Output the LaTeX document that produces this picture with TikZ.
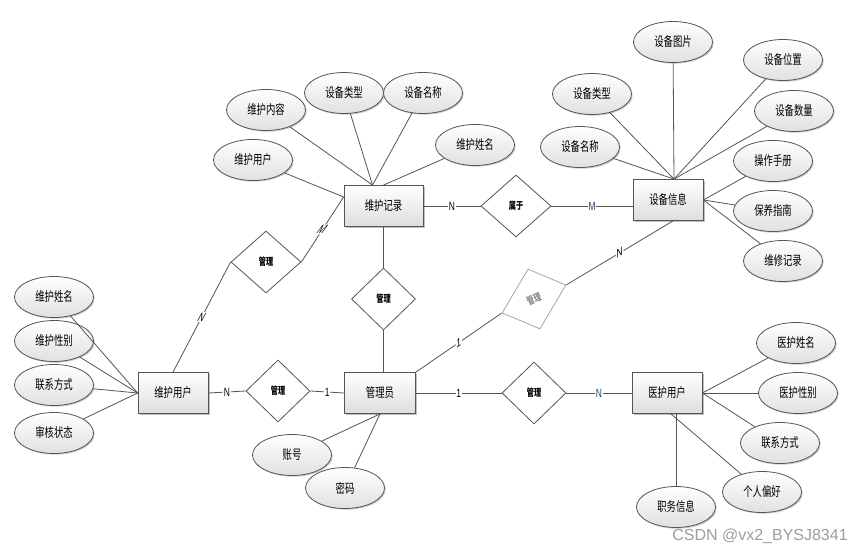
\documentclass[tikz,border=0pt]{standalone}
\usepackage{fontspec}
\newfontfamily\cjk[FakeStretch=0.72]{Noto Sans CJK SC}
\newfontfamily\lab[FakeStretch=0.7]{Liberation Sans}
\newfontfamily\wmfont{Liberation Sans}
\usetikzlibrary{shapes.geometric,shadows,calc}
\definecolor{lnc}{RGB}{85,85,85}
\definecolor{bluelab}{RGB}{30,70,110}
\tikzset{
  ent/.style={rectangle, draw=lnc, line width=0.8pt, top color=white, bottom color=black!13,
    minimum width=70pt, minimum height=41pt, inner sep=0pt,
    font=\cjk\fontsize{13}{14}\selectfont,
    drop shadow={shadow xshift=1.5pt, shadow yshift=-1.5pt, opacity=0.25, fill=black}},
  att/.style={ellipse, draw=lnc, line width=0.8pt, top color=white, bottom color=black!12,
    minimum width=79pt, minimum height=41pt, inner sep=0pt,
    font=\cjk\fontsize{13}{14}\selectfont,
    drop shadow={shadow xshift=1.2pt, shadow yshift=-1.2pt, opacity=0.2, fill=black}},
  rel/.style={diamond, draw=lnc, line width=0.8pt, fill=white,
    minimum width=64pt, minimum height=62pt, inner sep=0pt,
    font=\cjk\bfseries\fontsize{10}{11}\selectfont},
  ln/.style={draw=lnc, line width=0.8pt},
  lbl/.style={fill=white, inner sep=0.8pt, font=\lab\fontsize{12}{12}\selectfont},
}
\begin{document}
\begin{tikzpicture}[x=1pt,y=-1pt]
\fill[white] (0,0) rectangle (851,551);
\useasboundingbox (0,0) rectangle (851,551);

% entities
\node[ent, minimum width=79pt] (wr) at (383.5,206) {维护记录};
\node[ent] (dev) at (668,200) {设备信息};
\node[ent] (wu) at (173,393) {维护用户};
\node[ent, minimum width=71pt] (adm) at (380,393) {管理员};
\node[ent] (mu) at (667,393) {医护用户};

% relationships
\node[rel, minimum width=70pt] (r0) at (516,206) {属于};
\node[rel, minimum width=70pt] (r1) at (266,262) {管理};
\node[rel] (r2) at (383.5,299) {管理};
\node[rel] (r3) at (278,391) {管理};
\node[rel] (r5) at (534,393) {管理};
\node[diamond, draw=black!35, line width=0.8pt, fill=white, minimum width=64pt, minimum height=60pt,
  inner sep=0pt, cm={1,0.4375,-0.2,1,(0,0)}] (r4) at (534,299) {};
\node[rotate=24, text=black!45, inner sep=0pt,
  font=\cjk\bfseries\fontsize{10}{11}\selectfont] (r4t) at (r4.center) {管理};

% attributes of 维护记录
\node[att] (a1) at (266,110) {维护内容};
\node[att] (a2) at (344,93) {设备类型};
\node[att] (a3) at (423,93) {设备名称};
\node[att] (a4) at (475,145) {维护姓名};
\node[att] (a5) at (253,160) {维护用户};
\coordinate (wrt) at ($(wr.north)+(-11,0)$);
\coordinate (wrl) at ($(wr.west)+(0,-9)$);
\draw[ln] (a1) -- (wrt);
\draw[ln] (a2) -- (wrt);
\draw[ln] (a3) -- (wrt);
\draw[ln] (a4) -- (wr.north);
\draw[ln] (a5) -- (wrl);

% attributes of 设备信息
\node[att] (b1) at (673,42) {设备图片};
\node[att] (b2) at (783,60) {设备位置};
\node[att] (b3) at (592,94) {设备类型};
\node[att] (b4) at (794,111) {设备数量};
\node[att] (b5) at (580,147) {设备名称};
\node[att] (b6) at (773,161) {操作手册};
\node[att] (b7) at (773,211) {保养指南};
\node[att] (b8) at (783,261) {维修记录};
\coordinate (devt) at ($(dev.north)+(6,0)$);
\coordinate (devb) at ($(dev.south)+(5,0)$);
\draw[ln] (b1) -- (devt);
\draw[ln] (b2) -- (devt);
\draw[ln] (b3) -- (devt);
\draw[ln] (b4) -- (devt);
\draw[ln] (b5) -- (devt);
\draw[ln] (b6) -- (dev.east);
\draw[ln] (b7) -- (dev.east);
\draw[ln] (b8) -- (dev.east);

% attributes of 维护用户
\node[att] (c1) at (54,297) {维护姓名};
\node[att] (c2) at (54,341) {维护性别};
\node[att] (c3) at (54,385) {联系方式};
\node[att] (c4) at (54,433) {审核状态};
\draw[ln] (c1) -- (wu.west);
\draw[ln] (c2) -- (wu.west);
\draw[ln] (c3) -- (wu.west);
\draw[ln] (c4) -- (wu.west);

% attributes of 管理员
\node[att] (d1) at (292,455) {账号};
\node[att] (d2) at (345,488) {密码};
\draw[ln] (d1) -- (adm.south);
\draw[ln] (d2) -- (adm.south);

% attributes of 医护用户
\node[att] (e1) at (796,343) {医护姓名};
\node[att] (e2) at (798,393) {医护性别};
\node[att] (e3) at (780,443) {联系方式};
\node[att] (e4) at (762,492) {个人偏好};
\node[att] (e5) at (676,507) {职务信息};
\coordinate (mub) at ($(mu.south)+(4,0)$);
\draw[ln] (e1) -- (mu.east);
\draw[ln] (e2) -- (mu.east);
\draw[ln] (e3) -- (mu.east);
\draw[ln] (e4) -- (mub);
\draw[ln] (e5) -- (e5.north |- mub);

% relationship connectors
\draw[ln] (wr.east) -- node[lbl] {N} (r0.west);
\draw[ln] (r0.east) -- node[lbl, text=bluelab] {M} (r0.east -| dev.west);
\draw[ln] (wu.north) -- node[lbl, xslant=0.53] {N} (r1.west);
\draw[ln] (r1.east) -- node[lbl, xslant=0.75] {M} (wrl);
\draw[ln] (wr.south -| r2.north) -- (r2.north);
\draw[ln] (r2.south) -- (r2.south |- adm.north);
\draw[ln] (wu.east) -- node[lbl] {N} (r3.west);
\draw[ln] (r3.east) -- node[lbl] {1} (adm.west);
\draw[ln] (adm.east) -- node[lbl] {1} (r5.west);
\draw[ln] (r5.east) -- node[lbl, text=bluelab] {N} (mu.west);
\draw[ln] (adm.north east) -- node[lbl, yslant=0.67] {1} (r4.west);
\draw[ln] (r4.east) -- node[lbl, yslant=0.6] {N} (devb);

% watermark
\node[text=black!38, font=\wmfont\fontsize{16}{16}\selectfont, inner sep=0pt] (wm) at (760,536) {CSDN @vx2\_BYSJ8341};
\end{tikzpicture}
\end{document}
